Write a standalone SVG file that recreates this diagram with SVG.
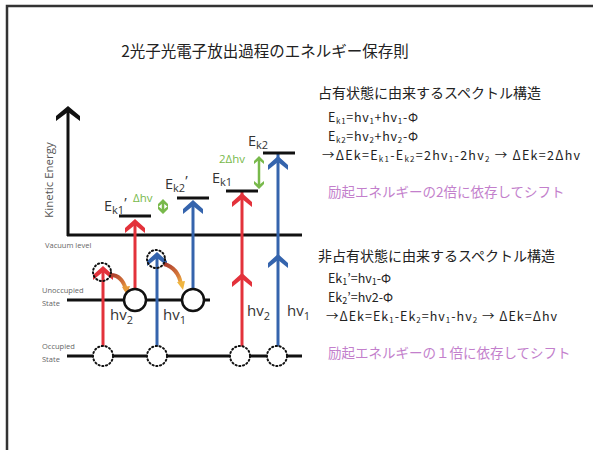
<svg xmlns="http://www.w3.org/2000/svg" width="593" height="450" viewBox="0 0 593 450">
<style>
.jp{font-family:"Noto Sans CJK JP","Noto Sans",sans-serif;fill:#222}
.fm{font-family:"Noto Sans CJK JP","Noto Sans",sans-serif;fill:#222;font-size:12.5px}
.pk{font-family:"Noto Sans CJK JP",sans-serif;fill:#c37fcc;font-size:13.5px}
.lb{font-family:"Open Sans","Liberation Sans",sans-serif;fill:#333}
.sm{font-family:"Open Sans","Liberation Sans",sans-serif;fill:#666;font-size:7.5px}
.lvl{stroke:#111;stroke-width:3}
.red{stroke:#e3323b;stroke-width:3;fill:none}
.blue{stroke:#3564ad;stroke-width:3;fill:none}
.grn{stroke:#78b94b;stroke-width:2.5}
.open{fill:#fff;stroke:#111;stroke-width:2.5}
.dot{fill:#fff;stroke:#111;stroke-width:2;stroke-dasharray:1.2 2.6;stroke-linecap:round}
.dot2{fill:none;stroke:#111;stroke-width:2;stroke-dasharray:1.2 2.6;stroke-linecap:round}
</style>
<defs>
<path id="chev" d="M0,0 L10,9 L10,14 L0,6 L-10,14 L-10,9 Z"/>
<path id="chevS" d="M0,0 L5,5 L5,8 L0,4 L-5,8 L-5,5 Z"/>
<linearGradient id="brn" x1="0" y1="0" x2="1" y2="1">
<stop offset="0" stop-color="#a8382e"/><stop offset="0.7" stop-color="#d77a3a"/><stop offset="1" stop-color="#f0b640"/>
</linearGradient>
</defs>
<rect width="593" height="450" fill="#fff"/>
<g id="frame" fill="none" stroke="#333" stroke-width="2.5">
<path d="M593,6 L7,6 L7,450"/>
</g>
<g id="title"><text class="jp" x="265" y="57" font-size="15.5" text-anchor="middle">2光子光電子放出過程のエネルギー保存則</text></g>

<g id="axis">
<line x1="68" y1="236" x2="68" y2="110" stroke="#111" stroke-width="3"/>
<path d="M68,106 L80,116 L80,121 L68,112 L56,121 L56,116 Z" fill="#111"/>
<text class="lb" font-size="11.5" transform="translate(53,180) rotate(-90)" text-anchor="middle" style="fill:#555">Kinetic Energy</text>
</g>
<g id="vacuum-level">
<line x1="67" y1="235" x2="302" y2="235" class="lvl"/>
<text class="sm" x="45" y="248">Vacuum level</text>
</g>
<g id="unoccupied-state">
<line x1="67" y1="300" x2="210" y2="300" class="lvl" stroke-width="2.5"/>
<text class="sm" x="42" y="293">Unoccupied</text>
<text class="sm" x="42" y="306">State</text>
</g>
<g id="occupied-state">
<line x1="67" y1="356" x2="302" y2="356" class="lvl" stroke-width="2.5"/>
<text class="sm" x="42" y="349">Occupied</text>
<text class="sm" x="42" y="362">State</text>
</g>

<g id="connectors">
<line x1="103" y1="356" x2="103" y2="272" class="red"/>
<use href="#chev" x="103" y="266" fill="#e3323b"/>
<line x1="157" y1="356" x2="157" y2="258" class="blue"/>
<use href="#chev" x="157" y="252" fill="#3564ad"/>
<line x1="135" y1="290" x2="135" y2="222" class="red"/>
<use href="#chev" x="135" y="219" fill="#e3323b"/>
<line x1="193" y1="290" x2="193" y2="204" class="blue"/>
<use href="#chev" x="193" y="200" fill="#3564ad"/>
<line x1="242" y1="356" x2="242" y2="192" class="red"/>
<use href="#chev" x="242" y="273" fill="#e3323b"/>
<use href="#chev" x="242" y="193" fill="#e3323b"/>
<line x1="278" y1="356" x2="278" y2="154" class="blue"/>
<use href="#chev" x="278" y="254" fill="#3564ad"/>
<use href="#chev" x="278" y="156" fill="#3564ad"/>
<path d="M109,275 Q122,274 126,290" fill="none" stroke="url(#brn)" stroke-width="4"/>
<path d="M122,287 L127,295 L130,286 Z" fill="#e79a3c"/>
<path d="M164,264 Q178,268 181,284" fill="none" stroke="url(#brn)" stroke-width="4"/>
<path d="M177,282 L183,290 L185,281 Z" fill="#f0b640"/>
<line x1="259" y1="160" x2="259" y2="185" class="grn"/>
<use href="#chevS" x="259" y="156" fill="#78b94b"/>
<use href="#chevS" transform="translate(259,189) scale(1,-1)" fill="#78b94b"/>
<line x1="163" y1="202" x2="163" y2="211" class="grn"/>
<use href="#chevS" x="163" y="199" fill="#78b94b"/>
<use href="#chevS" transform="translate(163,214) scale(1,-1)" fill="#78b94b"/>
</g>

<g id="circles">
<circle cx="135" cy="300" r="11" class="open"/>
<circle cx="193" cy="300" r="11" class="open"/>
<circle cx="103" cy="356" r="10" class="dot"/>
<circle cx="157" cy="356" r="10" class="dot"/>
<circle cx="240" cy="356" r="10" class="dot"/>
<circle cx="277" cy="356" r="10" class="dot"/>
<circle cx="102" cy="272" r="9" class="dot2"/>
<circle cx="156" cy="259" r="9" class="dot2"/>
</g>

<g id="levels">
<line x1="119" y1="216" x2="151" y2="216" class="lvl"/>
<line x1="177" y1="198" x2="209" y2="198" class="lvl"/>
<line x1="226" y1="191" x2="258" y2="191" class="lvl"/>
<line x1="263" y1="153" x2="295" y2="153" class="lvl"/>
</g>

<g id="level-labels">
<text class="lb" x="104" y="211" font-size="14.5">E<tspan font-size="11" dy="3">k1</tspan><tspan dy="-6">’</tspan></text>
<text class="lb" x="165" y="189" font-size="14.5">E<tspan font-size="11" dy="3">k2</tspan><tspan dy="-6">’</tspan></text>
<text class="lb" x="212" y="183" font-size="14.5">E<tspan font-size="11" dy="3">k1</tspan></text>
<text class="lb" x="248" y="146" font-size="14.5">E<tspan font-size="11" dy="3">k2</tspan></text>
<text class="lb" x="133" y="202" font-size="11.5" style="fill:#78b94b">Δhv</text>
<text class="lb" x="219" y="163" font-size="11.5" style="fill:#78b94b">2Δhv</text>
</g>

<g id="photon-labels">
<text class="lb" x="110" y="320" font-size="15">hv<tspan font-size="11" dy="4">2</tspan></text>
<text class="lb" x="163" y="320" font-size="15">hv<tspan font-size="11" dy="4">1</tspan></text>
<text class="lb" x="247" y="316" font-size="15">hv<tspan font-size="11" dy="4">2</tspan></text>
<text class="lb" x="287" y="316" font-size="15">hv<tspan font-size="11" dy="4">1</tspan></text>
</g>

<g id="occupied-text">
<text class="jp" x="318" y="98" font-size="14">占有状態に由来するスペクトル構造</text>
<text class="fm" x="328" y="122" textLength="90">E<tspan font-size="8" dy="2">k1</tspan><tspan dy="-2">=hv</tspan><tspan font-size="8" dy="2">1</tspan><tspan dy="-2">+hv</tspan><tspan font-size="8" dy="2">1</tspan><tspan dy="-2">-Φ</tspan></text>
<text class="fm" x="328" y="141" textLength="90">E<tspan font-size="8" dy="2">k2</tspan><tspan dy="-2">=hv</tspan><tspan font-size="8" dy="2">2</tspan><tspan dy="-2">+hv</tspan><tspan font-size="8" dy="2">2</tspan><tspan dy="-2">-Φ</tspan></text>
<text class="fm" x="322" y="160" textLength="258">→ΔEk=E<tspan font-size="8" dy="2">k1</tspan><tspan dy="-2">-E</tspan><tspan font-size="8" dy="2">k2</tspan><tspan dy="-2">=2hv</tspan><tspan font-size="8" dy="2">1</tspan><tspan dy="-2">-2hv</tspan><tspan font-size="8" dy="2">2</tspan><tspan dy="-2">  → ΔEk=2Δhv</tspan></text>
<text class="pk" x="328" y="197">励起エネルギーの2倍に依存してシフト</text>
</g>

<g id="unoccupied-text">
<text class="jp" x="318" y="261" font-size="14">非占有状態に由来するスペクトル構造</text>
<text class="fm" x="328" y="283" font-size="13">Ek<tspan font-size="9" dy="2">1</tspan><tspan dy="-2">’=hv</tspan><tspan font-size="9" dy="2">1</tspan><tspan dy="-2">-Φ</tspan></text>
<text class="fm" x="328" y="302" font-size="13">Ek<tspan font-size="9" dy="2">2</tspan><tspan dy="-2">’=hv2-Φ</tspan></text>
<text class="fm" x="326" y="321" textLength="231">→ΔEk=Ek<tspan font-size="8" dy="2">1</tspan><tspan dy="-2">-Ek</tspan><tspan font-size="8" dy="2">2</tspan><tspan dy="-2">=hv</tspan><tspan font-size="8" dy="2">1</tspan><tspan dy="-2">-hv</tspan><tspan font-size="8" dy="2">2</tspan><tspan dy="-2">  → ΔEk=Δhv</tspan></text>
<text class="pk" x="328" y="358">励起エネルギーの１倍に依存してシフト</text>
</g>
</svg>
